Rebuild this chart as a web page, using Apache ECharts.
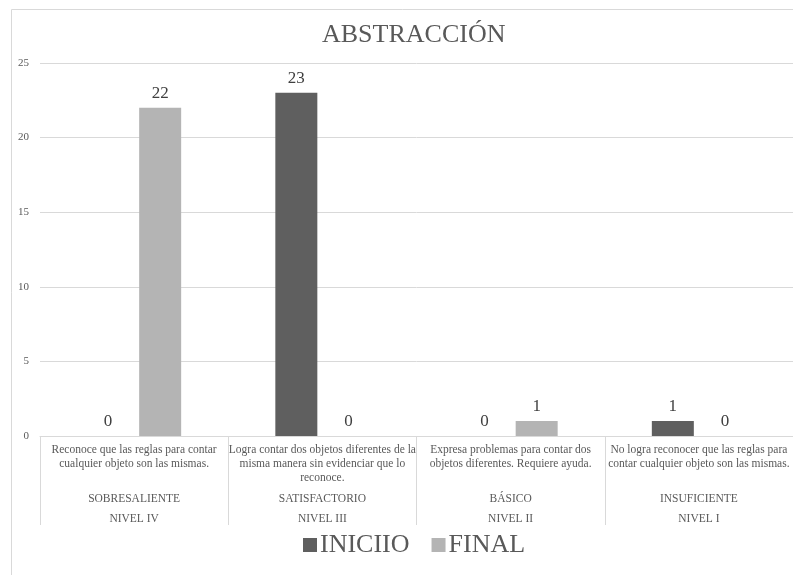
<!DOCTYPE html>
<html>
<head>
<meta charset="utf-8">
<script src="https://cdn.jsdelivr.net/npm/echarts@6/dist/echarts.min.js"></script>
<style>
html, body { margin: 0; padding: 0; background: #fff; }
#chart { width: 793px; height: 575px; }
</style>
</head>
<body>
<div id="chart"></div>
<script>
var descriptions = [
    ['Reconoce que las reglas para contar', 'cualquier objeto son las mismas.', ''],
    ['Logra contar dos objetos diferentes de la', 'misma manera sin evidenciar que lo', 'reconoce.'],
    ['Expresa problemas para contar dos', 'objetos diferentes. Requiere ayuda.', ''],
    ['No logra reconocer que las reglas para', 'contar cualquier objeto son las mismas.', '']
];
var levels = ['SOBRESALIENTE', 'SATISFACTORIO', 'BÁSICO', 'INSUFICIENTE'];
var niveles = ['NIVEL IV', 'NIVEL III', 'NIVEL II', 'NIVEL I'];
var inicio = [0, 23, 0, 1];
var final = [22, 0, 1, 0];
var yTicks = [0, 5, 10, 15, 20, 25];

var categories = levels.map(function (l, i) { return i; });
var fontFamily = '"Liberation Serif", "Times New Roman", serif';

var chart = echarts.init(document.getElementById('chart'));
var option = {
    animation: false,
    title: {
        text: 'ABSTRACCIÓN',
        left: 317,
        top: 17,
        textStyle: {
            fontFamily: fontFamily,
            fontSize: 26,
            fontWeight: 'normal',
            color: '#595959'
        }
    },
    graphic: [{
        type: 'rect',
        shape: { x: 11.5, y: 9.5, width: 800, height: 600 },
        style: { fill: 'none', stroke: '#d9d9d9', lineWidth: 1 },
        silent: true
    }],
    legend: {
        bottom: 12,
        left: 298,
        itemWidth: 14,
        itemHeight: 14,
        itemGap: 22,
        icon: 'rect',
        textStyle: {
            fontFamily: fontFamily,
            fontSize: 26,
            color: '#595959',
            padding: [0, 0, 0, -2]
        }
    },
    grid: {
        left: 40,
        right: 0,
        top: 63,
        bottom: 139
    },
    xAxis: {
        type: 'category',
        data: categories,
        axisLine: { lineStyle: { color: '#d9d9d9' } },
        axisTick: {
            show: true,
            length: 89,
            lineStyle: { color: '#d9d9d9' }
        },
        axisLabel: {
            interval: 0,
            margin: 7,
            formatter: function (v) {
                var i = +v;
                var d = descriptions[i];
                return '{d|' + d[0] + '}\n{d|' + d[1] + '}\n{d|' + (d[2] || ' ') + '}\n' +
                    '{n|' + levels[i] + '}\n{m|' + niveles[i] + '}';
            },
            rich: {
                d: { fontFamily: fontFamily, fontSize: 11.5, color: '#595959', lineHeight: 14, align: 'center' },
                n: { fontFamily: fontFamily, fontSize: 11.5, color: '#595959', lineHeight: 23, align: 'center', padding: [5, 0, 0, 0] },
                m: { fontFamily: fontFamily, fontSize: 11.5, color: '#595959', lineHeight: 21, align: 'center' }
            }
        }
    },
    yAxis: {
        type: 'value',
        min: yTicks[0],
        max: yTicks[yTicks.length - 1],
        interval: 5,
        axisLine: { show: false },
        axisTick: { show: false },
        axisLabel: {
            fontFamily: fontFamily,
            fontSize: 11,
            color: '#595959',
            margin: 11
        },
        splitLine: { lineStyle: { color: '#d9d9d9', width: 1 } }
    },
    series: [
        {
            name: 'INICIIO',
            type: 'bar',
            data: inicio,
            barWidth: 42,
            barGap: '24%',
            itemStyle: { color: '#5f5f5f' },
            label: {
                show: true,
                position: 'top',
                distance: 6,
                fontFamily: fontFamily,
                fontSize: 17,
                color: '#404040'
            }
        },
        {
            name: 'FINAL',
            type: 'bar',
            data: final,
            barWidth: 42,
            itemStyle: { color: '#b4b4b4' },
            label: {
                show: true,
                position: 'top',
                distance: 6,
                fontFamily: fontFamily,
                fontSize: 17,
                color: '#404040'
            }
        }
    ]
};
chart.setOption(option);

window.addEventListener('resize', function () {
    chart.resize();
});
</script>
</body>
</html>
